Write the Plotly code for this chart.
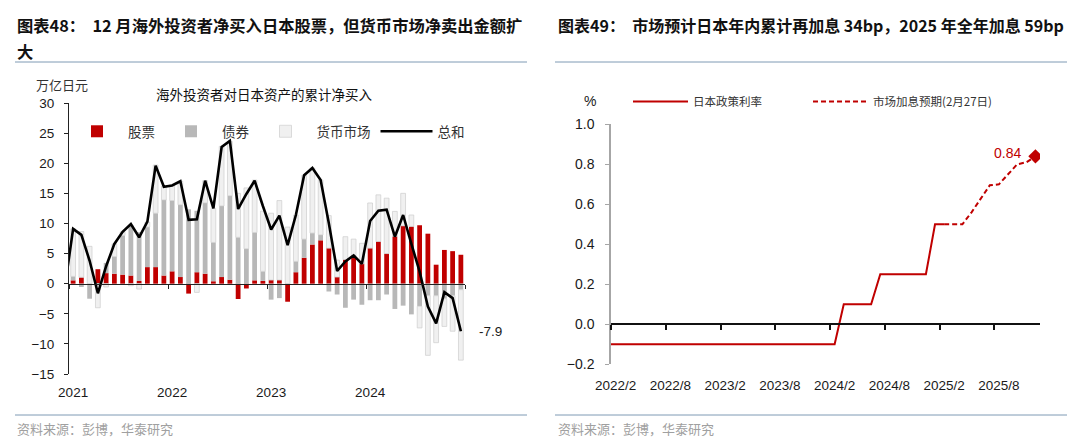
import plotly.graph_objects as go

# ---------------- Left panel data (万亿日元, cumulative net purchases) ----------------
left_months = [f"{y}/{m}" for y in range(2021, 2025) for m in range(1, 13)]
left_tick_labels = ["2021", "2022", "2023", "2024"]

stocks = [0.55, 1.05, 0.0, 2.4, 1.75, 1.65, 1.5, 1.35, 0.45, 2.75, 2.75, 1.35,
          2.05, 1.1, -1.65, 1.9, 1.65, 0.4, 1.1, 0.65, -2.55, -0.8, 0.55, 0.45,
          0.6, 0.6, -3.0, 1.9, 4.3, 6.5, 7.2, 5.9, 1.1, 4.0, 4.6, 3.3,
          5.9, 7.0, 5.0, 7.85, 9.6, 9.5, 9.7, 8.3, 3.15, 5.6, 5.4, 4.8]
bonds = [0.65, -0.55, -2.5, -0.3, 1.7, 2.85, 6.5, 8.4, 8.1, 6.65, 8.95, 12.55,
         11.75, 12.0, 12.3, 10.2, 11.75, 6.45, 11.8, 13.95, 7.7, 5.8, 7.95, 1.6,
         -2.65, -2.4, 0.0, 1.8, 3.1, 1.9, 0.9, -1.3, -1.8, -4.0, -2.65, -3.5,
         -2.75, -2.75, -1.8, -4.2, -3.65, -5.1, -3.75, -2.0, -2.0, -2.5, -2.0, -1.0]
money = [7.9, 7.6, 6.2, -3.7, -0.55, 2.1, 0.6, -0.35, -0.9, 0.8, 8.0, 2.3,
         2.6, 3.9, 0.0, -1.45, 3.7, 5.65, 9.9, 9.0, 7.3, 10.1, 8.7, 10.0,
         11.1, 13.2, 9.4, 7.7, 10.6, 10.8, 9.1, 5.4, 2.8, 3.8, 2.8, 3.4,
         7.5, 7.75, 9.2, 4.15, 5.4, 1.9, -3.6, -9.9, -7.8, -4.6, -5.9, -11.7]
# total line starts one month earlier (2020/12)
total_months = ["2020/12"] + left_months
total = [-0.5,
         9.1, 8.1, 3.8, -1.6, 2.9, 6.6, 8.6, 9.9, 7.7, 10.3, 19.6, 16.1,
         16.3, 17.0, 10.6, 10.7, 17.1, 12.5, 22.7, 23.7, 12.4, 14.9, 17.1, 12.9,
         9.0, 11.3, 6.4, 11.4, 18.0, 19.2, 17.2, 10.0, 2.1, 3.7, 4.7, 3.3,
         10.4, 12.1, 12.3, 7.8, 11.4, 6.6, 2.0, -3.8, -6.6, -1.4, -2.4, -7.9]

# ---------------- Right panel data (%) ----------------
right_months = [f"{y}/{m}" for y in range(2022, 2026) for m in range(1, 13)]
right_tick_labels = ["2022/2", "2022/8", "2023/2", "2023/8", "2024/2", "2024/8", "2025/2", "2025/8"]
policy_months = right_months[0:38]          # 2022/1 .. 2025/2
policy_rate = [-0.1,
               -0.1, -0.1, -0.1, -0.1, -0.1, -0.1, -0.1, -0.1, -0.1, -0.1, -0.1, -0.1,
               -0.1, -0.1, -0.1, -0.1, -0.1, -0.1, -0.1, -0.1, -0.1, -0.1, -0.1, -0.1,
               -0.1, 0.1, 0.1, 0.1, 0.1, 0.25, 0.25, 0.25, 0.25, 0.25, 0.25, 0.5, 0.5]
expect_months = right_months[37:48]         # 2025/2 .. 2025/12
expect_rate = [0.5, 0.5, 0.5, 0.56, 0.63, 0.695, 0.70, 0.75, 0.80, 0.81, 0.84]

RED = "#c00000"
FONT = "Liberation Sans, Arial, Noto Sans CJK SC"
CJK = "Noto Sans CJK SC"
W, H = 1080, 448

lx = {m: i for i, m in enumerate(total_months)}   # 2020/12 -> 0, 2021/1 -> 1
rx = {m: i for i, m in enumerate(right_months)}   # 2022/1 -> 0

fig = go.Figure()
fig.add_trace(go.Bar(x=[lx[m] for m in left_months], y=stocks, name="股票",
                     marker=dict(color=RED, line=dict(width=0)), legend="legend"))
fig.add_trace(go.Bar(x=[lx[m] for m in left_months], y=bonds, name="债券",
                     marker=dict(color="#b8b8b8", line=dict(width=0)), legend="legend"))
fig.add_trace(go.Bar(x=[lx[m] for m in left_months], y=money, name="货币市场",
                     marker=dict(color="#f0f0f0", line=dict(color="#cdcdcd", width=0.7)), legend="legend"))
fig.add_trace(go.Scatter(x=[lx[m] for m in total_months], y=total, name="总和", mode="lines",
                         line=dict(color="black", width=2.6), legend="legend"))

fig.add_trace(go.Scatter(x=[rx[m] for m in policy_months], y=policy_rate, name="日本政策利率",
                         mode="lines", line=dict(color=RED, width=2), xaxis="x2", yaxis="y2",
                         legend="legend2"))
fig.add_trace(go.Scatter(x=[rx[m] for m in expect_months], y=expect_rate, name="市场加息预期(2月27日)",
                         mode="lines", line=dict(color=RED, width=2, dash="5px,3px"),
                         xaxis="x2", yaxis="y2", legend="legend3"))
fig.add_trace(go.Scatter(x=[rx[expect_months[-1]]], y=[expect_rate[-1]], mode="markers",
                         marker=dict(symbol="diamond", size=11, color=RED), showlegend=False,
                         xaxis="x2", yaxis="y2"))

# domains (paper fractions)
L_xdom = [69 / W, 465 / W]
L_ydom = [1 - 374 / H, 1 - 103 / H]
L_yr = [-15, 30]
L_zero = L_ydom[0] + (0 - L_yr[0]) / (L_yr[1] - L_yr[0]) * (L_ydom[1] - L_ydom[0])

R_xdom = [611 / W, 1040 / W]
R_ydom = [1 - 364.3 / H, 1 - 124.3 / H]
R_yr = [-0.2, 1.0]
R_zero = R_ydom[0] + (0 - R_yr[0]) / (R_yr[1] - R_yr[0]) * (R_ydom[1] - R_ydom[0])

tickfont = dict(family=FONT, size=13.5, color="#1a1a1a")
legfont_r = dict(family=CJK, size=11.5, color="#333")

fig.update_layout(
    width=W, height=H, margin=dict(l=0, r=0, t=0, b=0, autoexpand=False),
    paper_bgcolor="white", plot_bgcolor="white",
    font=dict(family=FONT, size=13, color="#1a1a1a"),
    barmode="relative", bargap=0.42,
    xaxis=dict(domain=L_xdom, range=[0.5, 48.5], anchor="free", position=L_zero,
               showline=True, linecolor="#222", linewidth=1, showgrid=False, zeroline=False,
               tickmode="array", tickvals=[lx[f"{y}/1"] for y in left_tick_labels],
               ticktext=left_tick_labels, ticks="", ticklabelstandoff=96, tickfont=tickfont,
               minor=dict(tickmode="array", tickvals=[0.5, 12.5, 24.5, 36.5, 48.5],
                          ticks="outside", ticklen=4, tickcolor="#222", tickwidth=1)),
    yaxis=dict(domain=L_ydom, range=L_yr, anchor="x", tickmode="linear", tick0=0, dtick=5,
               ticks="outside", ticklen=4, tickcolor="#222", showline=True, linecolor="#222",
               linewidth=1, showgrid=False, zeroline=False, tickfont=tickfont,
               ticklabelstandoff=7),
    xaxis2=dict(domain=R_xdom, range=[0.5, 47.5], anchor="free", position=R_zero,
                showline=True, linecolor="#111", linewidth=1.5, showgrid=False, zeroline=False,
                tickmode="array", tickvals=[rx[m] for m in right_tick_labels],
                ticktext=right_tick_labels, ticks="", ticklabelstandoff=49, tickfont=tickfont,
                minor=dict(tickmode="array",
                           tickvals=[rx[m] - 0.5 for m in right_tick_labels],
                           ticks="outside", ticklen=5, tickcolor="#111", tickwidth=1.5)),
    yaxis2=dict(domain=R_ydom, range=R_yr, anchor="x2", tickmode="linear", tick0=0, dtick=0.2,
                tickformat=".1f", ticks="outside", ticklen=4, tickcolor="#a6a6a6",
                showline=True, linecolor="#a6a6a6", linewidth=1.5, showgrid=False,
                zeroline=False, tickfont=dict(family=FONT, size=14, color="#1a1a1a"),
                ticklabelstandoff=8),
    legend=dict(orientation="h", x=66 / W, y=1 - 131.5 / H, xanchor="left", yanchor="middle",
                font=dict(family=CJK, size=13.5, color="#333"), bgcolor="rgba(0,0,0,0)",
                itemwidth=52, traceorder="normal"),
    legend2=dict(orientation="h", x=628 / W, y=1 - 101.5 / H, xanchor="left", yanchor="middle",
                 font=legfont_r, bgcolor="rgba(0,0,0,0)", itemwidth=55),
    legend3=dict(orientation="h", x=808 / W, y=1 - 101.5 / H, xanchor="left", yanchor="middle",
                 font=legfont_r, bgcolor="rgba(0,0,0,0)", itemwidth=55),
)

ann = []
def paper_text(x, y, text, size, color="#111", xanchor="left", family=CJK):
    ann.append(dict(xref="paper", yref="paper", x=x / W, y=1 - y / H, text=text, showarrow=False,
                    xanchor=xanchor, yanchor="middle", font=dict(family=family, size=size, color=color)))

paper_text(15, 25, "<b>图表48：  12 月海外投资者净买入日本股票，但货币市场净卖出金额扩</b>", 16.3)
paper_text(15, 51, "<b>大</b>", 16.3)
paper_text(556, 25, "<b>图表49：  市场预计日本年内累计再加息 34bp，2025 年全年加息 59bp</b>", 16.0)
paper_text(34, 84, "万亿日元", 13, "#333")
paper_text(264, 94, "海外投资者对日本资产的累计净买入", 13.5, "#111", "center")
paper_text(590, 101, "%", 14, "#1a1a1a", "center", FONT)
paper_text(15, 428, "资料来源：彭博，华泰研究", 13, "#a0a0a0")
paper_text(556, 428, "资料来源：彭博，华泰研究", 13, "#a0a0a0")

ann.append(dict(xref="x", yref="y", x=lx[left_months[-1]], y=total[-1], text=f"{total[-1]:.1f}",
                showarrow=False, xanchor="left", yanchor="middle", xshift=16,
                font=dict(family=FONT, size=13.5, color="#1a1a1a")))
ann.append(dict(xref="x2", yref="y2", x=rx[expect_months[-1]], y=expect_rate[-1],
                text=f"{expect_rate[-1]:.2f}", showarrow=False, xanchor="right", yanchor="middle",
                xshift=-12, yshift=3, font=dict(family=FONT, size=14, color=RED)))
fig.update_layout(annotations=ann)

rule = dict(color="#7f9ab4", width=1)
shapes = [
    dict(type="line", xref="paper", yref="paper", x0=15 / W, x1=527 / W, y0=1 - 62 / H, y1=1 - 62 / H, line=rule),
    dict(type="line", xref="paper", yref="paper", x0=555 / W, x1=1067 / W, y0=1 - 62 / H, y1=1 - 62 / H, line=rule),
    dict(type="line", xref="paper", yref="paper", x0=15 / W, x1=527 / W, y0=1 - 415 / H, y1=1 - 415 / H, line=rule),
    dict(type="line", xref="paper", yref="paper", x0=555 / W, x1=1067 / W, y0=1 - 415 / H, y1=1 - 415 / H, line=rule),
]
fig.update_layout(shapes=shapes)

fig.write_html("out.html", config={"displayModeBar": False},
               post_script="document.body.style.margin='0';document.body.style.padding='0';")
